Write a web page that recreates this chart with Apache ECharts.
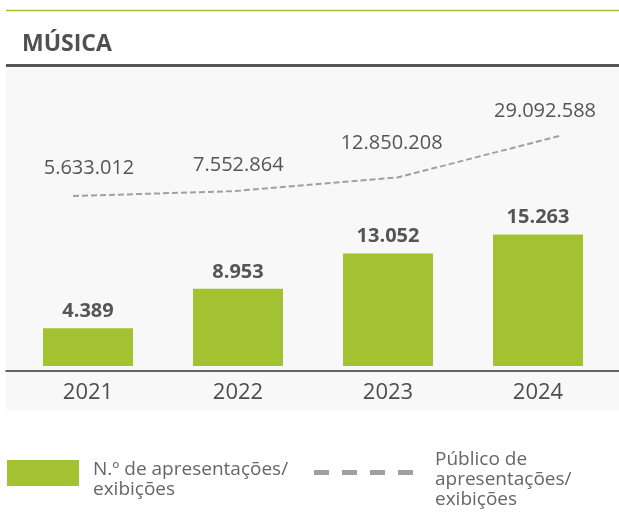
<!DOCTYPE html>
<html>
<head>
<meta charset="utf-8">
<script src="https://cdn.jsdelivr.net/npm/echarts@6/dist/echarts.min.js"></script>
<style>
html,body{margin:0;padding:0;background:#fff;}
#chart{width:619px;height:520px;}
</style>
</head>
<body>
<div id="chart"></div>
<script>
const titleText = 'MÚSICA';
const years = ['2021', '2022', '2023', '2024'];
const presentations = [4389, 8953, 13052, 15263];
const audience = [5633012, 7552864, 12850208, 29092588];
const seriesNames = ['N.º de apresentações/\nexibições', 'Público de\napresentações/\nexibições'];

const FONT = '"Open Sans", "Noto Sans", sans-serif';
const GREEN = '#a3c232';
const TEXT = '#555555';
const lineLabelOffsets = [[16, -28], [3, -26], [-6, -34], [-15, -24]];

function fmt(v) {
  return String(v).replace(/\B(?=(\d{3})+(?!\d))/g, '.');
}

const chart = echarts.init(document.getElementById('chart'), null, {renderer: 'canvas'});
chart.setOption({
  animation: false,
  backgroundColor: '#ffffff',
  title: {
    text: titleText, left: 17, top: 28,
    textStyle: {fontSize: 23, fontWeight: 'bold', color: '#505050', fontFamily: FONT}
  },
  grid: [
    {left: 13, right: 6, top: 193.6, bottom: 154},
    {left: 73, right: 59, top: 107.7, bottom: 309.5},
    {left: 6, right: 0, top: 66, bottom: 110, show: true, backgroundColor: '#f8f8f8', borderWidth: 0},
    {left: 6, right: 0, top: 300, bottom: 149}
  ],
  xAxis: [
    {type: 'category', gridIndex: 0, data: years, offset: 5,
     axisLine: {show: false}, axisTick: {show: false},
     axisLabel: {fontSize: 22, color: '#4d4d4d', margin: 11, fontFamily: FONT}},
    {type: 'category', gridIndex: 1, data: years, boundaryGap: false, show: false},
    {type: 'category', gridIndex: 2, data: years, show: false},
    {type: 'category', gridIndex: 3, data: years,
     axisLine: {show: true, onZero: false, lineStyle: {color: '#333333', width: 1.5}},
     axisTick: {show: false}, axisLabel: {show: false}}
  ],
  yAxis: [
    {type: 'value', gridIndex: 0, min: 0, max: 20000, show: false},
    {type: 'value', gridIndex: 1, min: 0, max: 40000000, show: false},
    {type: 'value', gridIndex: 2, min: 0, max: 1, show: false},
    {type: 'value', gridIndex: 3, min: 0, max: 1, show: false}
  ],
  series: [
    {
      name: seriesNames[0], type: 'bar', xAxisIndex: 0, yAxisIndex: 0,
      data: presentations, barWidth: 90,
      itemStyle: {color: GREEN},
      label: {show: true, position: 'top', distance: 7, fontSize: 20, fontWeight: 'bold',
              color: TEXT, fontFamily: FONT, formatter: p => fmt(p.value)}
    },
    {
      name: seriesNames[1], type: 'line', xAxisIndex: 1, yAxisIndex: 1,
      data: audience.map((v, i) => ({value: v, label: {offset: lineLabelOffsets[i]}})),
      symbol: 'circle', symbolSize: 0,
      lineStyle: {color: '#a0a0a0', width: 2, type: [6, 3]},
      itemStyle: {color: '#a0a0a0'},
      label: {show: true, position: 'inside', fontSize: 20, color: TEXT, fontFamily: FONT,
              formatter: p => fmt(p.value)}
    }
  ],
  graphic: [
    {type: 'line', z: 10, shape: {x1: 6, y1: 10.5, x2: 619, y2: 10.5}, style: {stroke: GREEN, lineWidth: 1.5}},
    {type: 'rect', z: 10, shape: {x: 6, y: 64, width: 613, height: 3}, style: {fill: '#555555'}},
    {type: 'rect', z: 10, shape: {x: 7, y: 460, width: 72, height: 26}, style: {fill: GREEN}},
    {type: 'text', z: 10, x: 93, y: 480, style: {text: seriesNames[0], fontSize: 19, fontFamily: FONT,
      fill: '#666666', verticalAlign: 'middle', lineHeight: 20}},
    {type: 'line', z: 10, shape: {x1: 314, y1: 472.5, x2: 414, y2: 472.5},
     style: {stroke: '#a0a0a0', lineWidth: 5, lineDash: [15, 13]}},
    {type: 'text', z: 10, x: 435, y: 480, style: {text: seriesNames[1], fontSize: 19, fontFamily: FONT,
      fill: '#666666', verticalAlign: 'middle', lineHeight: 20}}
  ]
});
</script>
</body>
</html>
